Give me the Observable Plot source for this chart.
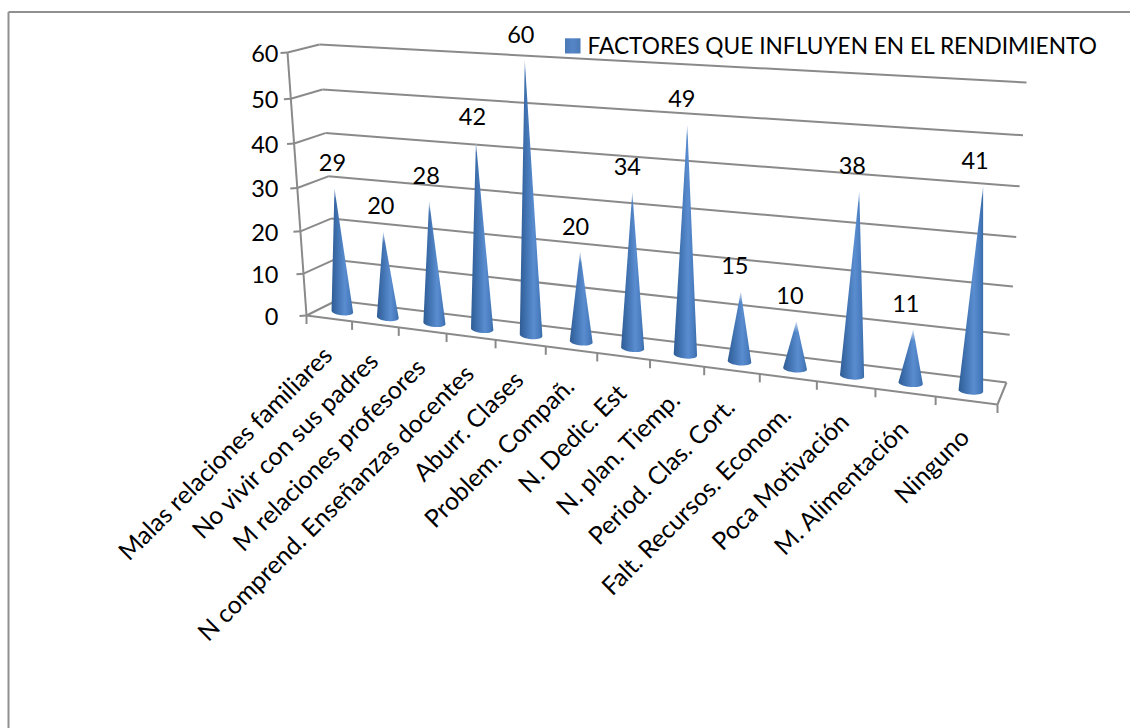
<!DOCTYPE html>
<html>
<head>
<meta charset="utf-8">
<script src="https://cdn.jsdelivr.net/npm/d3@7"></script>
<script src="https://cdn.jsdelivr.net/npm/@observablehq/plot@0.6"></script>
<style>
html,body{margin:0;padding:0;background:#fff;overflow:hidden}
#chart{width:1130px;height:728px;position:relative}
</style>
</head>
<body>
<div id="chart"></div>
<script>
const categories = ["Malas relaciones familiares","No vivir con sus padres","M relaciones profesores","N comprend. Enseñanzas docentes","Aburr. Clases","Problem. Compañ.","N. Dedic. Est","N. plan. Tiemp.","Period. Clas. Cort.","Falt. Recursos. Econom.","Poca Motivación","M. Alimentación","Ninguno"];
const values = [29,20,28,42,60,20,34,49,15,10,38,11,41];
const valueTicks = [0,10,20,30,40,50,60];
const seriesName = "FACTORES QUE INFLUYEN EN EL RENDIMIENTO";

// 3-D box projection: category position u, value v, depth d (0 front, 1 back)
const box = {
  frontLeft:[[306,315],[287,52]], frontRight:[[997,404],[1017,95]],
  backLeft:[[336,300],[319,44]], backRight:[[1006,382],[1026,82]]
};
const heightWarp = d3.scaleLinear().domain(valueTicks).range([0,.159,.32,.485,.654,.824,1]);
const lerp = (a,b,t)=>a+(b-a)*t;
const lerp2 = (p,q,t)=>[lerp(p[0],q[0],t),lerp(p[1],q[1],t)];
const widthWarp = u => { const s=u/categories.length; return s/(s+(1-s)*1.18); };
function project(u,v,d){
  const s=widthWarp(u), t=heightWarp(v);
  const bottom=lerp2(lerp2(box.frontLeft[0],box.frontRight[0],s),lerp2(box.backLeft[0],box.backRight[0],s),d);
  const top=lerp2(lerp2(box.frontLeft[1],box.frontRight[1],s),lerp2(box.backLeft[1],box.backRight[1],s),d);
  return lerp2(bottom,top,t);
}
const seg=(a,b)=>({x1:a[0],y1:a[1],x2:b[0],y2:b[1]});
const n=categories.length;

const gridLinks=[
  ...valueTicks.map(v=>seg(project(0,v,1),project(n,v,1))),
  ...valueTicks.map(v=>seg(project(0,v,0),project(0,v,1))),
  ...valueTicks.map(v=>{const p=project(0,v,0);return seg(p,[p[0]-7,p[1]+.5]);}),
  seg(project(0,0,0),project(0,60,0)),
  seg(project(0,0,0),project(n,0,0)),
  seg(project(n,0,0),project(n,0,1)),
  ...d3.range(n+1).map(u=>{const p=project(u,0,0);return seg(p,[p[0],p[1]+8.5]);})
];

const depth=.45;
const cones=values.map((v,i)=>{
  const u=i+.5, base=project(u,0,depth), apex=project(u,v,depth);
  const rx=lerp(10.8,12.3,i/(n-1)), ry=3.8;
  const pts=[{x:apex[0],y:apex[1]-1}];
  d3.range(0,181,10).forEach(a=>{ // lower half of base, right to left
    const r=a*Math.PI/180;
    pts.push({x:base[0]+rx*Math.cos(r),y:base[1]+ry*Math.sin(r)+rx*Math.cos(r)*.08});
  });
  return {i,v,base,apex,pts};
});
const conePts=cones.flatMap(c=>c.pts.map(p=>({...p,i:c.i})));
const tipPts=cones.flatMap(c=>{ // soft fading tip
  const h=10, f=h/(c.base[1]-c.apex[1]);
  const lx=c.pts[c.pts.length-1].x, rx=c.pts[1].x;
  return [
   {i:c.i,x:c.apex[0],y:c.apex[1]-2},
   {i:c.i,x:lerp(c.apex[0],rx,f)+.6,y:c.apex[1]+h},
   {i:c.i,x:lerp(c.apex[0],lx,f)-.6,y:c.apex[1]+h}
  ];
});

const valueLabels=cones.map(c=>({x:c.apex[0]-2-.5*c.i,y:c.apex[1]-26,t:String(c.v)}));
const catLabels=categories.map((t,i)=>{const p=project(i+.5,0,0);return {t,x:p[0]-1,y:p[1]+33};});
const axisLabels=valueTicks.map(v=>({t:String(v),y:project(0,v,0)[1]+2}));

const defs=()=>{
  const g=d3.create("svg:g");
  const d=g.append("defs");
  const lg=d.append("linearGradient").attr("id","coneFill").attr("x1",0).attr("x2",1).attr("y1",0).attr("y2",0);
  [[0,"#2f5c94"],[.3,"#4274b3"],[.62,"#5a8dd0"],[.85,"#4a7dbf"],[1,"#3a6ca9"]].forEach(([o,c])=>lg.append("stop").attr("offset",o).attr("stop-color",c));
  const tg=d.append("linearGradient").attr("id","tipFade").attr("x1",0).attr("x2",0).attr("y1",0).attr("y2",1);
  [[0,1],[.3,.55],[1,0]].forEach(([o,a])=>tg.append("stop").attr("offset",o).attr("stop-color","#fff").attr("stop-opacity",a));
  const lgd=d.append("linearGradient").attr("id","legendFill").attr("x1",0).attr("x2",1).attr("y1",0).attr("y2",0);
  [[0,"#4a7ab6"],[.5,"#5585c6"],[1,"#4a7ab6"]].forEach(([o,c])=>lgd.append("stop").attr("offset",o).attr("stop-color",c));
  return g.node();
};

const font="Lato";
const gray="#8a8a8a";
const plot=Plot.plot({
  width:1130,height:728,margin:0,
  x:{domain:[0,1130],range:[0,1130],axis:null},
  y:{domain:[0,728],range:[0,728],axis:null},
  style:{background:"#fff",fontFamily:font},
  marks:[
    defs,
    Plot.link([seg([8,728],[8,11.5]),seg([8,11.5],[1130,11.5])],{x1:"x1",y1:"y1",x2:"x2",y2:"y2",stroke:"#909090",strokeWidth:2}),
    Plot.link(gridLinks,{x1:"x1",y1:"y1",x2:"x2",y2:"y2",stroke:gray,strokeWidth:2}),
    Plot.line(conePts,{x:"x",y:"y",z:"i",fill:"url(#coneFill)",stroke:"none",curve:"linear-closed"}),
    Plot.line(tipPts,{x:"x",y:"y",z:"i",fill:"url(#tipFade)",stroke:"none",curve:"linear-closed"}),
    Plot.text(valueLabels,{x:"x",y:"y",text:"t",fontSize:23.5,fill:"#000"}),
    Plot.text(axisLabels,{x:()=>278,y:"y",text:"t",textAnchor:"end",fontSize:23.5,fill:"#000"}),
    Plot.text(catLabels,{x:"x",y:"y",text:"t",rotate:-45,textAnchor:"end",fontSize:24.8,fill:"#000"}),
    Plot.rect([{}],{x1:()=>565,x2:()=>580.5,y1:()=>38.3,y2:()=>53.5,fill:"url(#legendFill)"}),
    Plot.text([seriesName],{x:()=>587,y:()=>46,text:d=>d,textAnchor:"start",fontSize:22.7,fill:"#000"})
  ]
});
document.getElementById("chart").appendChild(plot);
</script>
</body>
</html>
